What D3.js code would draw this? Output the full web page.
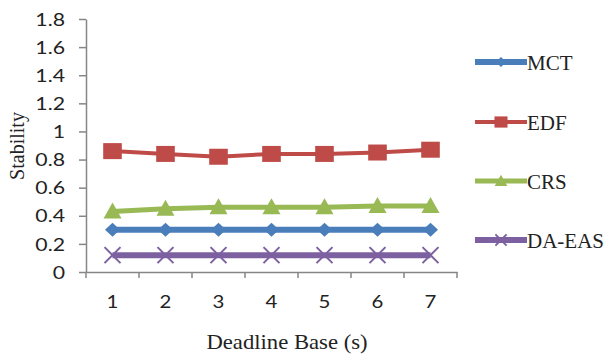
<!DOCTYPE html>
<html>
<head>
<meta charset="utf-8">
<script src="https://cdn.jsdelivr.net/npm/d3@7"></script>
<style>
  html, body { margin: 0; padding: 0; background: #fff; }
  svg { display: block; }
  .serif { font-family: "Liberation Serif", "DejaVu Serif", "Times New Roman", Times, serif; }
  .sans { font-family: Lato, "Open Sans", sans-serif; }
</style>
</head>
<body>
<div id="chart"></div>
<script>
// Stability of each scheduling scheme against the deadline base
const deadlineBase = ["1", "2", "3", "4", "5", "6", "7"];
const mct   = [0.30, 0.30, 0.30, 0.30, 0.30, 0.30, 0.30];
const edf   = [0.86, 0.84, 0.82, 0.84, 0.84, 0.85, 0.87];
const crs   = [0.43, 0.45, 0.46, 0.46, 0.46, 0.47, 0.47];
const daEas = [0.12, 0.12, 0.12, 0.12, 0.12, 0.12, 0.12];
const yTicks = [0, 0.2, 0.4, 0.6, 0.8, 1, 1.2, 1.4, 1.6, 1.8];

const series = [
  { name: "MCT",    values: mct,   color: "#4A7EBB", width: 6, marker: "diamond" },
  { name: "EDF",    values: edf,   color: "#BE4B48", width: 4, marker: "square" },
  { name: "CRS",    values: crs,   color: "#98B954", width: 5, marker: "triangle" },
  { name: "DA-EAS", values: daEas, color: "#7D60A0", width: 6, marker: "cross" }
];

const W = 616, H = 356;
const plot = { left: 86, right: 457, top: 19, bottom: 272 };
const axisColor = "#868686";

const svg = d3.select("#chart").append("svg")
  .attr("width", W).attr("height", H);

const x = d3.scaleBand().domain(deadlineBase).range([plot.left, plot.right]).padding(0);
const y = d3.scaleLinear().domain([0, 1.8]).range([plot.bottom, plot.top]);

// Y axis
const yAxis = svg.append("g")
  .attr("transform", `translate(${plot.left},0)`)
  .call(d3.axisLeft(y).tickValues(yTicks).tickFormat(d3.format("")).tickSize(7).tickSizeOuter(0));
yAxis.attr("font-family", null).attr("font-size", null);
yAxis.select(".domain").attr("stroke", axisColor).attr("stroke-width", 1.5);
yAxis.selectAll(".tick line").attr("stroke", axisColor).attr("stroke-width", 1.5);
yAxis.selectAll(".tick text")
  .attr("class", "sans")
  .attr("x", 0).attr("dy", "0.36em")
  .attr("transform", "translate(-21,0) scale(1.25,1)")
  .attr("text-anchor", "end")
  .style("font-size", "17px").attr("fill", "#222");

// X axis: labels centred in each category, ticks on category boundaries
const xAxis = svg.append("g")
  .attr("transform", `translate(0,${plot.bottom})`)
  .call(d3.axisBottom(x).tickSize(0).tickSizeOuter(0));
xAxis.attr("font-family", null).attr("font-size", null);
xAxis.select(".domain").attr("stroke", axisColor).attr("stroke-width", 1.5);
xAxis.selectAll(".tick text")
  .attr("class", "sans")
  .attr("y", 0).attr("dy", 0)
  .attr("transform", "translate(0,36) scale(1.2,1)")
  .style("font-size", "17px").attr("fill", "#222");

const bounds = deadlineBase.map(d => x(d)).concat([x.range()[1]]);
xAxis.selectAll(".bound").data(bounds).enter().append("line")
  .attr("class", "bound")
  .attr("x1", d => d).attr("x2", d => d)
  .attr("y1", 0).attr("y2", 6)
  .attr("stroke", axisColor).attr("stroke-width", 1.5);

// Axis titles
svg.append("text")
  .attr("class", "serif")
  .attr("transform", `translate(287,349) scale(1.08,1)`)
  .attr("text-anchor", "middle")
  .style("font-size", "21px").attr("fill", "#222")
  .text("Deadline Base (s)");

svg.append("text")
  .attr("class", "serif")
  .attr("transform", `translate(24,146) rotate(-90)`)
  .attr("text-anchor", "middle")
  .style("font-size", "20px").attr("fill", "#222")
  .text("Stability");

// Marker shapes
function drawMarker(g, kind, cx, cy, color, s) {
  if (kind === "diamond") {
    g.append("path")
      .attr("d", `M${cx - 7.5 * s},${cy} L${cx},${cy - 7 * s} L${cx + 7.5 * s},${cy} L${cx},${cy + 7 * s} Z`)
      .attr("fill", color);
  } else if (kind === "square") {
    g.append("rect")
      .attr("x", cx - 9.3 * s).attr("y", cy - 8 * s)
      .attr("width", 18.6 * s).attr("height", 16 * s)
      .attr("fill", color);
  } else if (kind === "triangle") {
    g.append("path")
      .attr("d", `M${cx},${cy - 9 * s} L${cx + 9 * s},${cy + 7 * s} L${cx - 9 * s},${cy + 7 * s} Z`)
      .attr("fill", color);
  } else {
    g.append("path")
      .attr("d", `M${cx - 8 * s},${cy - 8 * s} L${cx + 8 * s},${cy + 8 * s} M${cx - 8 * s},${cy + 8 * s} L${cx + 8 * s},${cy - 8 * s}`)
      .attr("stroke", color).attr("stroke-width", 2).attr("fill", "none");
  }
}

const cx = d => x(d) + x.bandwidth() / 2;
const line = d3.line().x(d => cx(d.cat)).y(d => y(d.v));

series.forEach(s => {
  const pts = deadlineBase.map((c, i) => ({ cat: c, v: s.values[i] }));
  const g = svg.append("g");
  g.append("path").datum(pts)
    .attr("d", line)
    .attr("fill", "none")
    .attr("stroke", s.color)
    .attr("stroke-width", s.width)
    .attr("stroke-linejoin", "round");
  pts.forEach(p => drawMarker(g, s.marker, cx(p.cat), y(p.v), s.color, 1));
});

// Legend
const legendRows = [62, 122, 181, 240];
series.forEach((s, i) => {
  const g = svg.append("g");
  const ly = legendRows[i];
  g.append("line")
    .attr("x1", 475).attr("x2", 527).attr("y1", ly).attr("y2", ly)
    .attr("stroke", s.color).attr("stroke-width", s.width);
  drawMarker(g, s.marker, 501, ly, s.color, 0.7);
  g.append("text")
    .attr("class", "serif")
    .attr("x", 527).attr("y", ly + 8)
    .style("font-size", "21px").attr("fill", "#222")
    .text(s.name);
});
</script>
</body>
</html>
